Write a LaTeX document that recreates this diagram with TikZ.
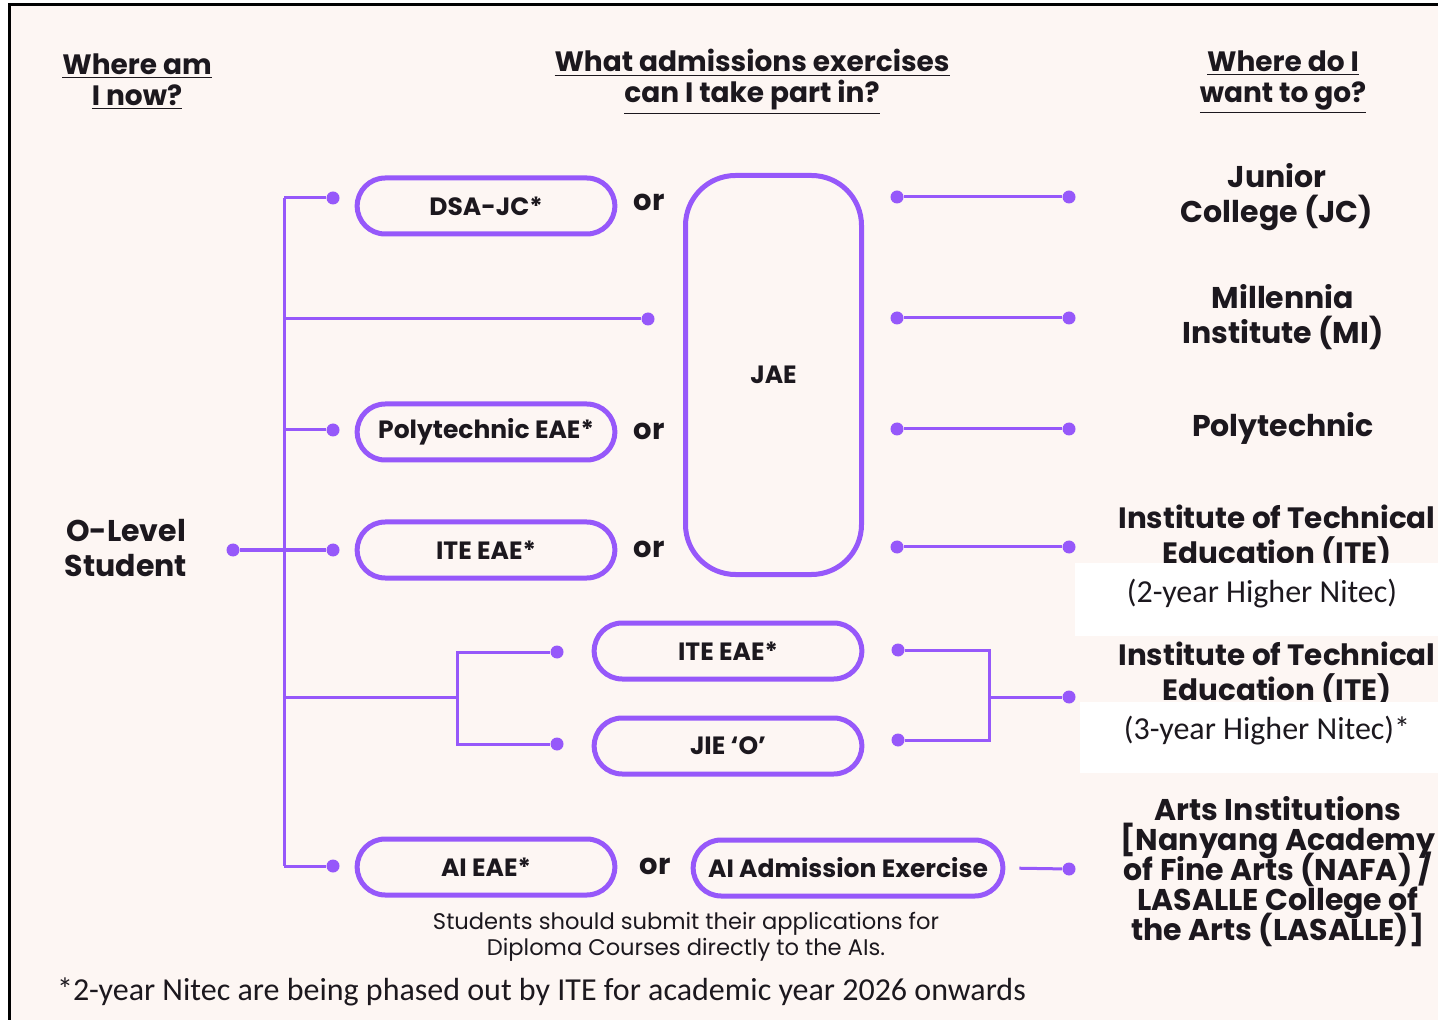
\documentclass[tikz,border=0pt]{standalone}
\usepackage{fontspec}
\setmainfont{Poppins}
\newfontfamily\calibri{Carlito}
\usetikzlibrary{shapes.misc}

\definecolor{purp}{RGB}{150,88,250}
\definecolor{paper}{RGB}{253,246,243}
\definecolor{ink}{RGB}{28,24,30}

\protected\def\tightlines{\lineskiplimit=-20pt\relax\lineskip=0pt\relax}

\begin{document}
\begin{tikzpicture}[%
        x = 0.5pt,
        y = -0.5pt,
        text = ink,
        link/.style = {draw = purp, line width = 1.5pt},
        dot/.style = {circle, fill = purp, inner sep = 0pt, minimum size = 6.5pt},
        pill/.style = {rounded rectangle, draw = purp, line width = 2.5pt,
            minimum width = 135.5pt, minimum height = 28pt,
            font = \fontsize{12.5}{14}\selectfont\bfseries},
        head/.style = {align = center, font = \fontsize{14}{15.5}\selectfont\bfseries},
        place/.style = {align = center, font = \fontsize{15}{17.5}\selectfont\bfseries},
        ortext/.style = {font = \fontsize{14.5}{16}\selectfont\bfseries},
        note/.style = {font = \calibri\fontsize{16}{18}\selectfont},
        patch/.style = {fill = white, inner sep = 0pt, anchor = north west}
    ]

        % Page, paper and frame.
        \useasboundingbox (0,0) rectangle (1438,1020);
        \fill[white] (0,0) rectangle (1438,1020);
        \fill[paper] (9,5) rectangle (1438,1020);
        \draw[line width = 1.5pt] (9,1020) -- (9,5) -- (1438,5);

        % Column headings.
        \node[head] (hNow) at (137,82) {\underline{Where am}\\\underline{I now?}};
        \node[head] (hEx) at (752,82) {\underline{What admissions exercises}\\\underline{can I take part in?}};
        \node[head] (hGo) at (1283,82) {\underline{Where do I}\\\underline{want to go?}};

        % The student on the left.
        \node[align = center, font = \fontsize{15}{17.5}\selectfont\bfseries]
            (student) at (126,548) {O-Level\\Student};

        % Admissions exercises.
        \node[pill] (dsa) at (486,206) {DSA-JC*};
        \node[pill] (polyEAE) at (486,432) {Polytechnic EAE*};
        \node[pill] (iteEAE) at (486,550) {ITE EAE*};
        \node[pill] (aiEAE) at (486,867) {AI EAE*};
        \node[pill, minimum width = 140.5pt] (iteEAEb) at (728,651) {ITE EAE*};
        \node[pill, minimum width = 140.5pt] (jie) at (728,746) {JIE ‘O’};
        \node[pill, minimum width = 161.5pt] (aiAE) at (848,868) {AI Admission Exercise};
        \node[draw = purp, line width = 2.5pt, rounded corners = 25pt,
            minimum width = 88pt, minimum height = 199.5pt,
            font = \fontsize{12.5}{14}\selectfont\bfseries] (jae) at (773.5,375) {JAE};

        \node[ortext] (or1) at (649,202) {or};
        \node[ortext] (or2) at (649,431) {or};
        \node[ortext] (or3) at (649,549) {or};
        \node[ortext] (or4) at (655,866) {or};

        \node[align = center, font = \fontsize{11.3}{13}\selectfont] (aiNote) at (686,937)
            {Students should submit their applications for\\Diploma Courses directly to the AIs.};

        % Destinations.
        \node[place] (jc) at (1277,197) {Junior\\College (JC)};
        \node[place] (mi) at (1283,317) {Millennia\\Institute (MI)};
        \node[place] (poly) at (1283,428) {Polytechnic};
        \node[place, font = \fontsize{14.7}{17.5}\selectfont\bfseries] (iteA) at (1277,537)
            {Institute of Technical\\Education (ITE)};
        \node[place, font = \fontsize{14.7}{17.5}\selectfont\bfseries] (iteB) at (1277,674)
            {Institute of Technical\\Education (ITE)};
        \node[place, font = {\fontsize{15}{15}\selectfont\bfseries\tightlines}]
            (arts) at (1278,872)
            {Arts Institutions\\{}[Nanyang Academy\\of Fine Arts (NAFA) /\\LASALLE College of\\the Arts (LASALLE)]};

        % White patches with the Nitec notes.
        \node[patch, minimum width = 181.5pt, minimum height = 36.5pt] (patchA) at (1075,563) {};
        \node[patch, minimum width = 179pt, minimum height = 35.5pt] (patchB) at (1080,702) {};
        \node[note] (nitecA) at (1262,594) {(2-year Higher Nitec)};
        \node[note] (nitecB) at (1267,731) {(3-year Higher Nitec)*};

        % Footnote.
        \node[note, anchor = west] (foot) at (50,992)
            {*2-year Nitec are being phased out by ITE for academic year 2026 onwards};

        % Dots where the lines end.
        \node[dot] (start) at (233,550) {};
        \node[dot] (dsaIn) at (333,198) {};
        \node[dot] (jaeIn) at (648,319) {};
        \node[dot] (polyIn) at (333,430) {};
        \node[dot] (iteIn) at (333,550) {};
        \node[dot] (aiIn) at (333,866) {};
        \node[dot] (iteBIn) at (557,652) {};
        \node[dot] (jieIn) at (557,744) {};
        \node[dot] (iteBOut) at (898,650) {};
        \node[dot] (jieOut) at (898,740) {};
        \node[dot] (iteBEnd) at (1069,697) {};
        \node[dot] (aiEnd) at (1069,869) {};

        % Tree from the student to the exercises.
        \coordinate (top) at (284,198);
        \coordinate (bot) at (284,866);
        \coordinate (fork) at (457,697);
        \coordinate (join) at (989,697);
        \draw[link] (top) -- (bot);
        \draw[link] (start) -- (iteIn);
        \draw[link] (top) -- (dsaIn);
        \draw[link] (top |- jaeIn) -- (jaeIn);
        \draw[link] (top |- polyIn) -- (polyIn);
        \draw[link] (bot) -- (aiIn);
        \draw[link] (top |- fork) -- (fork);
        \draw[link] (iteBIn) -| (fork) |- (jieIn);
        \draw[link] (iteBOut) -| (join) |- (jieOut);
        \draw[link] (join) -- (iteBEnd);
        \draw[link, shorten <= 7pt] (aiAE.east) -- (aiEnd);

        % Lines from the JAE box to the destinations.
        \foreach \n/\y in {jc/197, mi/318, poly/429, ite/547}{
            \node[dot] (\n L) at (897,\y) {};
            \node[dot] (\n R) at (1069,\y) {};
            \draw[link] (\n L) -- (\n R);
        }
    \end{tikzpicture}
\end{document}
